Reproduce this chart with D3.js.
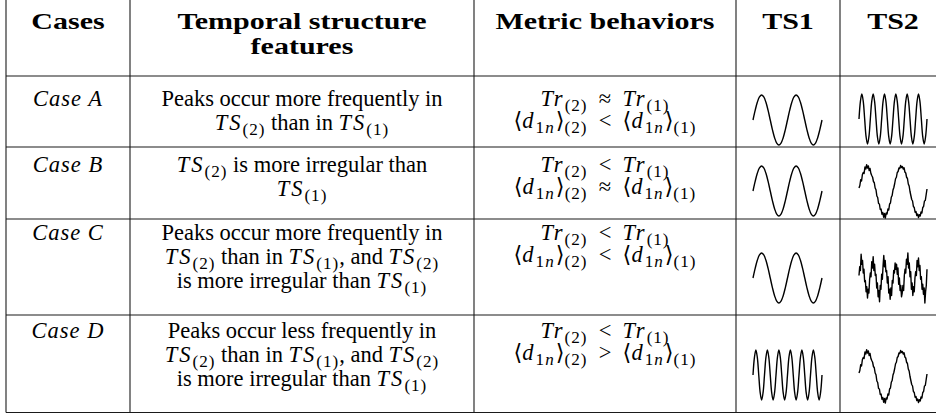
<!DOCTYPE html>
<html><head><meta charset="utf-8">
<script src="https://cdn.jsdelivr.net/npm/d3@7"></script>
<style>
html,body{margin:0;padding:0;background:#fff;}
svg text{white-space:pre;}
</style></head><body>
<svg id="c" width="936" height="419"></svg>
<script>
// ---------- data ----------
const headers = [["Cases"], ["Temporal structure", "features"], ["Metric behaviors"], ["TS1"], ["TS2"]];
const cases = ["Case A", "Case B", "Case C", "Case D"];
// text segments: r = roman, i = math italic, s = subscript roman, si = subscript italic, o = relation
const temporal = [
  [
    [["Peaks occur more frequently in", "r"]],
    [["TS", "i"], ["(2)", "s"], [" than in ", "r"], ["TS", "i"], ["(1)", "s"]]
  ],
  [
    [["TS", "i"], ["(2)", "s"], [" is more irregular than", "r"]],
    [["TS", "i"], ["(1)", "s"]]
  ],
  [
    [["Peaks occur more frequently in", "r"]],
    [["TS", "i"], ["(2)", "s"], [" than in ", "r"], ["TS", "i"], ["(1)", "s"], [", and ", "r"], ["TS", "i"], ["(2)", "s"]],
    [["is more irregular than ", "r"], ["TS", "i"], ["(1)", "s"]]
  ],
  [
    [["Peaks occur less frequently in", "r"]],
    [["TS", "i"], ["(2)", "s"], [" than in ", "r"], ["TS", "i"], ["(1)", "s"], [", and ", "r"], ["TS", "i"], ["(2)", "s"]],
    [["is more irregular than ", "r"], ["TS", "i"], ["(1)", "s"]]
  ]
];
const metric = [
  [
    [["Tr", "i"], ["(2)", "s"], ["\u2248", "o"], ["Tr", "i"], ["(1)", "s"]],
    [["\u27E8", "r"], ["d", "i"], ["1", "s"], ["n", "si"], ["\u27E9", "r"], ["(2)", "s"], ["<", "o"], ["\u27E8", "r"], ["d", "i"], ["1", "s"], ["n", "si"], ["\u27E9", "r"], ["(1)", "s"]]
  ],
  [
    [["Tr", "i"], ["(2)", "s"], ["<", "o"], ["Tr", "i"], ["(1)", "s"]],
    [["\u27E8", "r"], ["d", "i"], ["1", "s"], ["n", "si"], ["\u27E9", "r"], ["(2)", "s"], ["\u2248", "o"], ["\u27E8", "r"], ["d", "i"], ["1", "s"], ["n", "si"], ["\u27E9", "r"], ["(1)", "s"]]
  ],
  [
    [["Tr", "i"], ["(2)", "s"], ["<", "o"], ["Tr", "i"], ["(1)", "s"]],
    [["\u27E8", "r"], ["d", "i"], ["1", "s"], ["n", "si"], ["\u27E9", "r"], ["(2)", "s"], ["<", "o"], ["\u27E8", "r"], ["d", "i"], ["1", "s"], ["n", "si"], ["\u27E9", "r"], ["(1)", "s"]]
  ],
  [
    [["Tr", "i"], ["(2)", "s"], ["<", "o"], ["Tr", "i"], ["(1)", "s"]],
    [["\u27E8", "r"], ["d", "i"], ["1", "s"], ["n", "si"], ["\u27E9", "r"], ["(2)", "s"], [">", "o"], ["\u27E8", "r"], ["d", "i"], ["1", "s"], ["n", "si"], ["\u27E9", "r"], ["(1)", "s"]]
  ]
];

// time-series sample values (read from the thumbnails)
const smoothSlow = [0, 0.383, 0.707, 0.924, 1, 0.924, 0.707, 0.383, 0, -0.383, -0.707, -0.924, -1, -0.924, -0.707, -0.383,
  0, 0.383, 0.707, 0.924, 1, 0.924, 0.707, 0.383, 0, -0.383, -0.707, -0.924, -1, -0.924, -0.707, -0.383, 0];
const smoothFast = [0, 0.707, 1, 0.707, 0, -0.707, -1, -0.707, 0, 0.707, 1, 0.707, 0, -0.707, -1, -0.707,
  0, 0.707, 1, 0.707, 0, -0.707, -1, -0.707, 0, 0.707, 1, 0.707, 0, -0.707, -1, -0.707,
  0, 0.707, 1, 0.707, 0, -0.707, -1, -0.707, 0, 0.707, 1, 0.707, 0, -0.707, -1, -0.707, 0];
const noisySlow = [0.12, 0.22, 0.45, 0.40, 0.66, 0.74, 0.70, 0.96, 0.88, 1.05, 0.92, 1.00, 0.82, 0.90, 0.70, 0.62, 0.55, 0.38, 0.33, 0.12,
  0.05, -0.20, -0.26, -0.50, -0.52, -0.74, -0.72, -0.93, -0.86, -1.05, -0.90, -1.08, -0.88, -0.92, -0.72, -0.76, -0.52, -0.48, -0.25, -0.18,
  0.04, 0.14, 0.30, 0.49, 0.55, 0.74, 0.78, 0.92, 0.90, 1.02, 0.94, 0.98, 0.88, 0.93, 0.76, 0.72, 0.55, 0.50, 0.28, 0.20,
  -0.02, -0.18, -0.34, -0.40, -0.62, -0.66, -0.85, -0.82, -0.98, -0.92, -1.06, -0.95, -1.00, -0.84, -0.88, -0.66, -0.62, -0.40, -0.38, -0.15, 0.08];
const noisyFast = [0.10, 0.45, 0.30, 0.95, 0.55, 0.70, 0.20, 0.35, -0.15, -0.10, -0.55, -0.35, -0.80, -0.45, -0.60, -0.05,
  0.20, 0.05, 0.65, 0.40, 0.85, 0.30, 0.55, 0.10, 0.15, -0.40, -0.20, -0.75, -0.50, -0.95, -0.30, -0.45,
  0.15, -0.05, 0.50, 0.90, 0.45, 0.70, 0.25, 0.30, -0.20, 0.05, -0.60, -0.45, -0.85, -0.40, -0.70, -0.10,
  -0.20, 0.30, 0.20, 0.60, 0.35, 0.55, 0.15, 0.40, -0.25, 0.00, -0.50, -0.30, -0.75, -0.60, -0.30, -0.50,
  0.10, 0.35, 0.20, 0.75, 0.55, 1.00, 0.40, 0.60, 0.05, 0.25, -0.45, -0.20, -0.70, -0.35, -0.55, 0.00,
  0.25, 0.10, 0.70, 0.45, 0.80, 0.30, 0.50, -0.05, 0.05, -0.45, -0.25, -0.65, -0.40, -1.00, -0.55, -0.30, 0.35];
const ts1 = [smoothSlow, smoothSlow, smoothSlow, smoothFast];
const ts2 = [smoothFast, noisySlow, noisyFast, noisySlow];
const ts1Noisy = [false, false, false, false];
const ts2Noisy = [false, true, true, true];

// ---------- layout ----------
const svg = d3.select("#c");
const FONT = "'Liberation Serif', 'DejaVu Serif', serif";
const colX = [6, 130, 474, 736, 840, 946];
const rowY = [0, 76, 147, 219, 315, 412.5];
const colC = d3.range(5).map(i => (colX[i] + colX[i + 1]) / 2);
const bodySize = 22.5;
const headSize = 24;
const headStretch = 1.25;

function drawText(segs, x, y, size, opts = {}) {
  const t = svg.append("text").attr("x", x).attr("y", y).attr("text-anchor", "middle")
    .style("font-family", FONT).attr("font-size", size).attr("fill", "#000");
  if (opts.bold) t.attr("font-weight", "bold");
  let shifted = false;
  segs.forEach(([s, st]) => {
    const txt = st === "o" ? "\u2002" + s + "\u2002" : s;
    const sp = t.append("tspan").text(txt);
    const isSub = st === "s" || st === "si";
    if (isSub && !shifted) { sp.attr("dy", size * 0.24); shifted = true; }
    else if (!isSub && shifted) { sp.attr("dy", -size * 0.24); shifted = false; }
    if (isSub) sp.attr("font-size", size * 0.76).attr("letter-spacing", 1);
    if (st === "i" || st === "si") sp.attr("font-style", "italic").attr("letter-spacing", 2);
  });
  if (opts.stretch) {
    const w = t.node().getComputedTextLength();
    t.attr("textLength", w * opts.stretch).attr("lengthAdjust", "spacingAndGlyphs");
  }
  return t;
}

// grid lines
const grid = svg.append("g").attr("stroke", "#1a1a1a").attr("stroke-width", 1.1);
rowY.slice(1).forEach(y => grid.append("line").attr("x1", colX[0]).attr("x2", 936).attr("y1", y).attr("y2", y));
colX.slice(0, 5).forEach(x => grid.append("line").attr("x1", x).attr("x2", x).attr("y1", 0).attr("y2", rowY[5]));

// header
const headBase = [29, 54];
headers.forEach((lines, c) => {
  lines.forEach((ln, k) => drawText([[ln, "r"]], colC[c], headBase[k], headSize, { bold: true, stretch: headStretch }));
});

// rows
const firstBase = [106, 172, 240, 338];
const lineGap = 24;
const metricGap = 22;
cases.forEach((cs, r) => {
  drawText([[cs, "r"]], colC[0], firstBase[r], bodySize).attr("font-style", "italic").attr("letter-spacing", 1);
  temporal[r].forEach((ln, k) => drawText(ln, colC[1], firstBase[r] + k * lineGap, bodySize));
  metric[r].forEach((ln, k) => drawText(ln, colC[2], firstBase[r] + k * metricGap, bodySize));
});

// thumbnails
const ts1Box = [753, 822];
const ts2Box = [859, 927];
const ts1Mid = [120, 191, 278, 375];
const ts2Mid = [119, 191, 278, 376];
const amp = 25;
function drawSeries(vals, box, mid, noisy) {
  const x = d3.scaleLinear().domain([0, vals.length - 1]).range(box);
  const y = d3.scaleLinear().domain([-1, 1]).range([mid + amp, mid - amp]);
  const line = d3.line().x((d, i) => x(i)).y(d => y(d))
    .curve(noisy ? d3.curveLinear : d3.curveCatmullRom);
  svg.append("path").datum(vals).attr("d", line).attr("fill", "none")
    .attr("stroke", "#000").attr("stroke-width", 1.4).attr("stroke-linejoin", "round");
}
cases.forEach((cs, r) => {
  drawSeries(ts1[r], ts1Box, ts1Mid[r], ts1Noisy[r]);
  drawSeries(ts2[r], ts2Box, ts2Mid[r], ts2Noisy[r]);
});
</script>
</body></html>
